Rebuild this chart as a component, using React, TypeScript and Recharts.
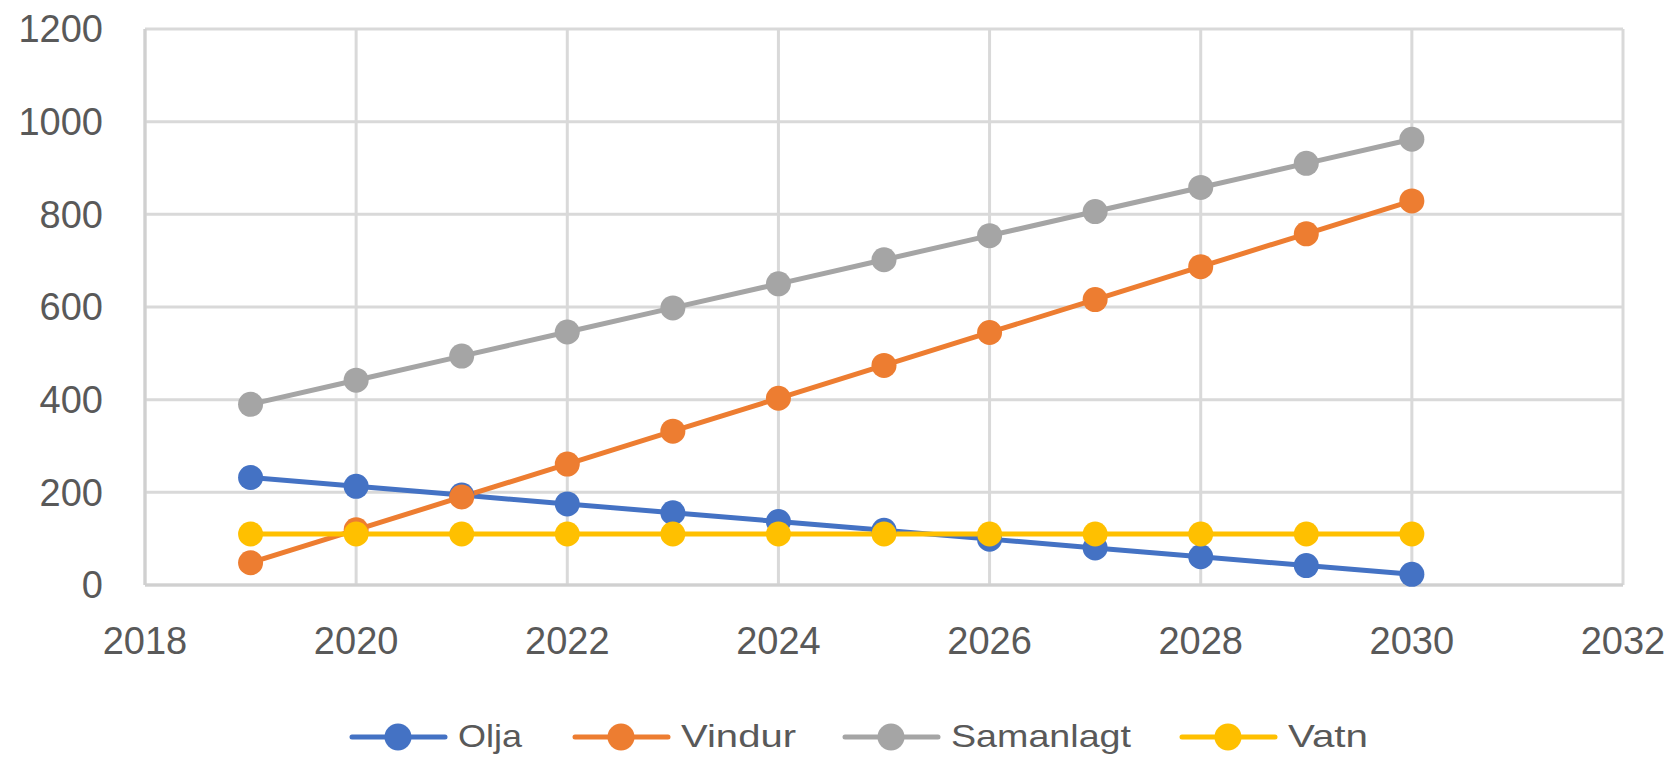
import { LineChart, Line, XAxis, YAxis, CartesianGrid, Legend } from 'recharts';

// years on the x axis
const years = [2019, 2020, 2021, 2022, 2023, 2024, 2025, 2026, 2027, 2028, 2029, 2030];
const olja = [232, 213, 194, 175, 156, 137, 118, 99, 80, 61, 42, 23];
const vindur = [48, 119, 190, 261, 332, 403, 474, 545, 616, 687, 758, 829];
const samanlagt = [390, 442, 494, 546, 598, 650, 702, 754, 806, 858, 910, 962];
const vatn = [110, 110, 110, 110, 110, 110, 110, 110, 110, 110, 110, 110];

const xTicks = [2018, 2020, 2022, 2024, 2026, 2028, 2030, 2032];
const yTicks = [0, 200, 400, 600, 800, 1000, 1200];

const series = [
  { key: 'Olja', color: '#4472C4' },
  { key: 'Vindur', color: '#ED7D31' },
  { key: 'Samanlagt', color: '#A5A5A5' },
  { key: 'Vatn', color: '#FFC000' },
];

const data = years.map((year, i) => ({
  year,
  Olja: olja[i],
  Vindur: vindur[i],
  Samanlagt: samanlagt[i],
  Vatn: vatn[i],
}));

const tickStyle = { fontSize: 38, fill: '#595959', fontFamily: 'Liberation Sans' };

// legend item layout (x of line start, text width)
const legendPos = [
  { x: 350, w: 64 },
  { x: 573, w: 115 },
  { x: 843, w: 180 },
  { x: 1180, w: 80 },
];

function renderLegend() {
  return (
    <svg width={1674} height={50} style={{ display: 'block' }}>
      {series.map((s, i) => {
        const p = legendPos[i];
        return (
          <g key={s.key}>
            <line x1={p.x + 2} y1={27} x2={p.x + 95} y2={27} stroke={s.color} strokeWidth={5} strokeLinecap="round" />
            <circle cx={p.x + 48} cy={27} r={13.5} fill={s.color} />
            <text
              x={p.x + 108}
              y={37}
              fontSize={32}
              fontFamily="Liberation Sans"
              fill="#595959"
              textLength={p.w}
              lengthAdjust="spacingAndGlyphs"
            >
              {s.key}
            </text>
          </g>
        );
      })}
    </svg>
  );
}

export default function App() {
  return (
    <div style={{ position: 'absolute', left: 0, top: 0, background: '#fff' }}>
      <LineChart
        width={1674}
        height={757}
        data={data}
        margin={{ top: 29, right: 51, bottom: 0, left: 0 }}
      >
        <CartesianGrid stroke="#d9d9d9" strokeWidth={3} />
        <XAxis
          dataKey="year"
          type="number"
          domain={[2018, 2032]}
          ticks={xTicks}
          tickLine={false}
          tickSize={0}
          tickMargin={42}
          height={118}
          axisLine={{ stroke: '#d0d0d0', strokeWidth: 3 }}
          tick={tickStyle}
        />
        <YAxis
          domain={[0, 1200]}
          ticks={yTicks}
          tickLine={false}
          tickSize={0}
          tickMargin={42}
          width={145}
          axisLine={{ stroke: '#d0d0d0', strokeWidth: 3 }}
          tick={tickStyle}
        />
        <Legend
          content={renderLegend}
          wrapperStyle={{ position: 'absolute', top: 710, left: 0, width: 1674, height: 54 }}
        />
        {series.map((s) => (
          <Line
            key={s.key}
            dataKey={s.key}
            stroke={s.color}
            strokeWidth={5}
            dot={{ r: 12.5, fill: s.color, stroke: s.color, strokeWidth: 0 }}
            activeDot={false}
            isAnimationActive={false}
          />
        ))}
      </LineChart>
    </div>
  );
}
